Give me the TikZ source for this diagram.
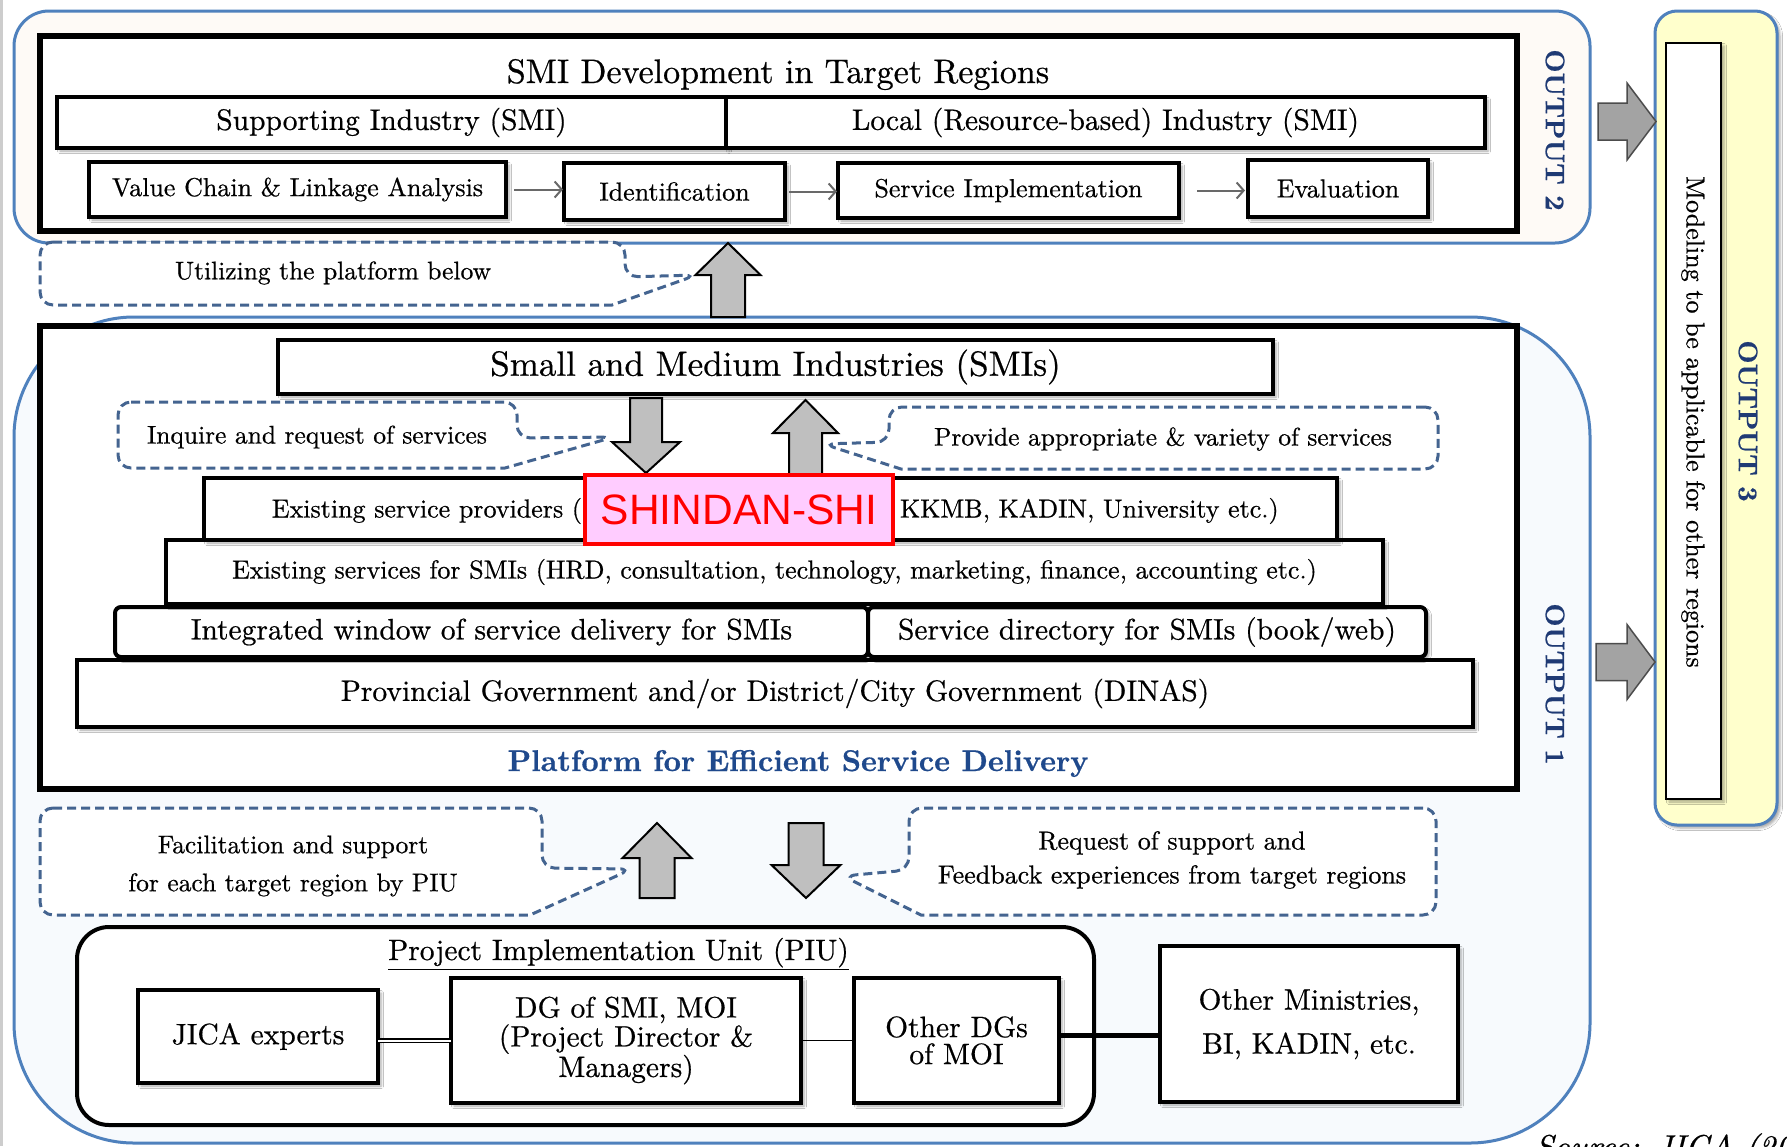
\documentclass[tikz,border=0pt]{standalone}
\usepackage{fontspec}
\setmainfont{lmroman10-regular.otf}[FakeBold=0.6, BoldFont=lmroman10-bold.otf, ItalicFont=lmroman10-italic.otf, BoldItalicFont=lmroman10-bolditalic.otf]
\newfontfamily\shindanfont{Liberation Sans}
\usetikzlibrary{arrows.meta,shadows.blur}

\definecolor{frameblue}{RGB}{79,129,189}
\definecolor{outonefill}{RGB}{247,250,253}
\definecolor{outtwofill}{RGB}{254,250,246}
\definecolor{outthreefill}{RGB}{255,255,204}
\definecolor{dashblue}{RGB}{68,100,144}
\definecolor{arrowgray}{RGB}{191,191,191}
\definecolor{darkarrow}{RGB}{163,163,163}
\definecolor{flowgray}{RGB}{105,105,105}
\definecolor{navy}{RGB}{31,58,116}
\definecolor{platblue}{RGB}{31,73,140}
\definecolor{pinkfill}{RGB}{255,204,255}
\definecolor{edgegray}{RGB}{205,205,205}

% font size helper: size / baseline skip
\newcommand\fs[2]{\fontsize{#1}{#2}\selectfont}
% box from corner (x1,y1) to (x2,y2): [options]{name}{x1}{y1}{x2}{y2}{text}
\newcommand\place[7][]{\node[#1, minimum width={(#5-#3)*1pt}, minimum height={(#6-#4)*1pt}] (#2) at ({(#3+#5)/2},{(#4+#6)/2}) {#7};}
% vertical block arrow: cx, y tip, y head base, y shaft end, half shaft, half head
\newcommand\varrow[6]{\draw[blockarrow] (#1-#5,#4) -- (#1-#5,#3) -- (#1-#6,#3) -- (#1,#2) -- (#1+#6,#3) -- (#1+#5,#3) -- (#1+#5,#4) -- cycle;}
% horizontal block arrow: cy, x tip, x head base, x shaft end, half shaft, half head
\newcommand\harrow[6]{\draw[sidearrow] (#4,#1-#5) -- (#3,#1-#5) -- (#3,#1-#6) -- (#2,#1) -- (#3,#1+#6) -- (#3,#1+#5) -- (#4,#1+#5) -- cycle;}

\begin{document}
\begin{tikzpicture}[x=1pt, y=-1pt,
  every node/.style={inner sep=0pt, outer sep=0pt},
  softshadow/.style={blur shadow={shadow xshift=3pt, shadow yshift=-3pt, shadow blur radius=2.5pt, shadow opacity=35}},
  frame/.style={draw=frameblue, line width=3pt},
  heavyframe/.style={draw=black, line width=6pt, fill=white},
  bbox/.style={draw=black, line width=#1, fill=white, softshadow},
  bbox/.default=3.5pt,
  callout/.style={draw=dashblue, line width=3pt, dash pattern=on 9pt off 5pt, fill=white},
  blockarrow/.style={draw=black, line width=2pt, fill=arrowgray, line join=miter},
  sidearrow/.style={draw=black!70, line width=1.5pt, fill=darkarrow, line join=miter},
  flow/.style={draw=flowgray, line width=2pt, -{Straight Barb[length=7pt, width=16pt]}},
  outlabel/.style={font=\bfseries\fs{27}{27}, text=navy, rotate=-90},
  tcall/.style={font=\fs{25.5}{36}},
  tsmall/.style={font=\fs{26}{30}},
  tmid/.style={font=\fs{29.5}{30}},
  tbig/.style={font=\fs{35}{36}},
  ttitle/.style={font=\fs{34}{36}},
]
\useasboundingbox (0,0) rectangle (1787,1146);
\clip (0,0) rectangle (1787,1146);
\fill[white] (0,0) rectangle (1787,1146);
\draw[edgegray, line width=2.5pt] (1.5,0) -- (1.5,1146);

% ---------- the three output frames ----------
\place[frame, fill=outtwofill, rounded corners=35pt]{out2}{14}{11}{1590}{243}{}
\place[frame, fill=outonefill, rounded corners=120pt]{out1}{14}{317}{1590}{1143}{}
\place[frame, fill=outthreefill, rounded corners=22pt, softshadow]{out3}{1655}{11}{1777}{825}{}

% ---------- OUTPUT 2: SMI development ----------
\place[heavyframe]{smidev}{40}{36}{1517}{231}{}
\node[ttitle, anchor=base] (smititle) at (778,83) {SMI Development in Target Regions};
\place[bbox=4pt, tmid]{supp}{57}{97}{726}{148}{Supporting Industry (SMI)}
\place[bbox=4pt, tmid]{local}{726}{97}{1485}{148}{Local (Resource-based) Industry (SMI)}
\place[bbox, tsmall]{vc}{89}{162}{506}{217}{Value Chain \& Linkage Analysis}
\place[bbox, tsmall]{ident}{564}{163}{785}{220}{Identification}
\place[bbox, tsmall]{serv}{838}{163}{1179}{218}{Service Implementation}
\place[bbox, tsmall]{eval}{1248}{160}{1428}{217}{Evaluation}
\draw[flow, shorten <=8pt, shorten >=1pt] (vc.east) -- (vc.east -| ident.west);
\draw[flow, shorten <=4pt, shorten >=1pt] (ident.east) -- (ident.east -| serv.west);
\draw[flow, shorten <=18pt, shorten >=3pt] (serv.east) -- (serv.east -| eval.west);
\node[outlabel] (out2lab) at (1555,130) {OUTPUT 2};

% callout and arrow linking the platform to output 2
\draw[callout, rounded corners=13pt] (40,242) -- (625,242) -- (625,277) -- (697,275) [sharp corners] -- (612,305) [rounded corners=13pt] -- (40,305) -- cycle;
\node[tcall] (utiltext) at (333,273) {Utilizing the platform below};
\varrow{728}{243}{275}{317}{17}{32.5}

% ---------- OUTPUT 1: platform ----------
\place[heavyframe]{platform}{40}{326}{1517}{789}{}
\place[bbox=4.5pt, tbig]{smis}{278}{340}{1273}{394}{Small and Medium Industries (SMIs)}

\draw[callout, rounded corners=13pt] (118,402) -- (517,402) -- (517,438) -- (614,437) [sharp corners] -- (505,468) [rounded corners=13pt] -- (118,468) -- cycle;
\node[tcall] (inqtext) at (317,437) {Inquire and request of services};
\draw[callout, rounded corners=13pt] (1438,407) -- (889,407) -- (889,442) -- (823,444) [sharp corners] -- (901,469) [rounded corners=13pt] -- (1438,469) -- cycle;
\node[tcall] (provtext) at (1163,439) {Provide appropriate \& variety of services};

% stacked service layers, widest at the bottom
\place[bbox=4pt, tmid]{prov}{77}{660}{1473}{727}{Provincial Government and/or District/City Government (DINAS)}
\place[bbox=4pt, tmid, rounded corners=6pt]{window}{115}{607}{868}{657}{Integrated window of service delivery for SMIs}
\place[bbox=4pt, tmid, rounded corners=6pt]{directory}{868}{607}{1426}{657}{Service directory for SMIs (book/web)}
\place[bbox=4pt, tsmall]{services}{166}{540}{1383}{604}{Existing services for SMIs (HRD, consultation, technology, marketing, finance, accounting etc.)}
\place[bbox=4pt]{providers}{204}{478}{1337}{540}{}
\node[tsmall, anchor=east] (provleft) at (582,511) {Existing service providers (};
\node[tsmall, anchor=west] (provright) at (900,511) {KKMB, KADIN, University etc.)};

\varrow{646}{473}{442}{398}{16}{34}
\varrow{805.5}{400}{433}{476}{16.5}{32.5}

\place[draw=red, line width=4pt, fill=pinkfill, text=red, font=\shindanfont\fs{42.5}{43}]{shindan}{585}{475}{893}{544}{SHINDAN-SHI}

\node[font=\bfseries\fs{30}{30}, text=platblue, anchor=base] (plattext) at (798,771) {Platform for Efficient Service Delivery};
\node[outlabel] (out1lab) at (1555,684) {OUTPUT 1};

% ---------- support from the implementation unit ----------
\draw[callout, rounded corners=13pt] (40,808) -- (542,808) -- (542,868) -- (632,869) [sharp corners] -- (530,915) [rounded corners=13pt] -- (40,915) -- cycle;
\node[font=\fs{25.5}{38}, align=center] (factext) at (293,866) {Facilitation and support\\for each target region by PIU};
\draw[callout, rounded corners=13pt] (1436,808) -- (909,808) -- (909,870) -- (843,876) [sharp corners] -- (921,915) [rounded corners=13pt] -- (1436,915) -- cycle;
\node[font=\fs{26}{34}, align=center] (reqtext) at (1172,860) {Request of support and\\Feedback experiences from target regions};
\varrow{657}{823}{858}{898}{17.5}{34.5}
\varrow{806}{898}{865}{823}{17.5}{34.5}

\place[draw=black, line width=4pt, fill=white, rounded corners=32pt]{piu}{77}{927}{1094}{1125}{}
\node[tmid, anchor=base] (piutitle) at (618.5,960) {\underline{Project Implementation Unit (PIU)}};
\place[bbox=4pt, tmid]{jica}{138}{990}{378}{1083}{JICA experts}
\place[bbox=4pt, font=\fs{29.5}{29}, align=center]{dg}{451}{978}{801}{1103}{DG of SMI, MOI\\(Project Director \&\\Managers)}
\place[bbox=4pt, font=\fs{29.5}{27}, align=center]{odg}{854}{978}{1059}{1103}{Other DGs\\of MOI}
\place[bbox=4pt, font=\fs{29.5}{44}, align=center]{omin}{1160}{946}{1458}{1102}{Other Ministries,\\BI, KADIN, etc.}
\coordinate (linkrow) at (0,1035);
\draw[double=white, double distance=2pt, line width=1.5pt] (jica.east |- dg.west) -- (dg.west);
\draw[line width=1.5pt] (dg.east) -- (odg.west);
\draw[line width=5pt] (odg.east |- linkrow) -- (omin.west |- linkrow);

% ---------- OUTPUT 3: modelling ----------
\harrow{121.5}{1656}{1627}{1598}{18.5}{38.5}
\harrow{662}{1655}{1627}{1596}{18.5}{37.5}
\place[draw=black, line width=2.5pt, fill=white, softshadow]{modelbox}{1666}{43}{1721}{799}{}
\node[font=\fs{26}{26}, rotate=-90] (modeltext) at (1693,422) {Modeling to be applicable for other regions};
\node[outlabel] (out3lab) at (1748,421) {OUTPUT 3};

% source line running off the page
\node[font=\itshape\fs{33}{33}, anchor=base west] (src) at (1535,1158) {Source: JICA (20};
\end{tikzpicture}
\end{document}
